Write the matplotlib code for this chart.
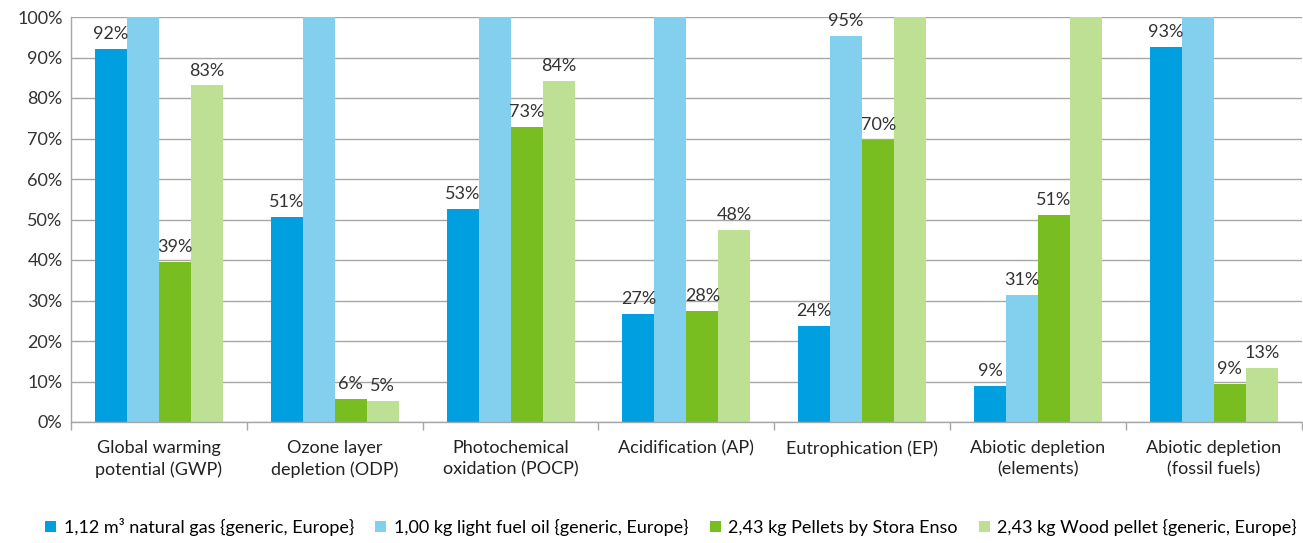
import numpy as np
import matplotlib
matplotlib.use("Agg")
import matplotlib.pyplot as plt
from matplotlib.ticker import FixedLocator, PercentFormatter

plt.rcParams['font.family'] = ['Lato', 'DejaVu Sans']

# data (percent of the worst option in each category)
categories = ["Global warming\npotential (GWP)", "Ozone layer\ndepletion (ODP)",
              "Photochemical\noxidation (POCP)", "Acidification (AP)",
              "Eutrophication (EP)", "Abiotic depletion\n(elements)",
              "Abiotic depletion\n(fossil fuels)"]
series_names = ["1,12 m³ natural gas {generic, Europe}",
                "1,00 kg light fuel oil {generic, Europe}",
                "2,43 kg Pellets by Stora Enso",
                "2,43 kg Wood pellet {generic, Europe}"]
natural_gas = [92.2, 50.6, 52.6, 26.6, 23.6, 8.8, 92.6]
fuel_oil = [100, 100, 100, 100, 95.4, 31.4, 100]
stora_enso = [39.4, 5.6, 72.9, 27.5, 69.6, 51.2, 9.3]
wood_pellet = [83.1, 5.1, 84.1, 47.5, 100, 100, 13.3]
colors = ["#009FDF", "#82CFEE", "#78BE20", "#BEE094"]

values = [natural_gas, fuel_oil, stora_enso, wood_pellet]

fig = plt.figure(figsize=(13.03, 5.43), dpi=100)
ax = fig.add_axes([71 / 1303, 1 - 422 / 543, 1 - 71 / 1303 - 0.001, (422 - 17) / 543])

x = np.arange(len(categories)) + 0.5
w = 0.182
for i, (vals, name, c) in enumerate(zip(values, series_names, colors)):
    pos = x + (i - 1.5) * w
    ax.bar(pos, vals, width=w, color=c, label=name, zorder=2)
    for p, v in zip(pos, vals):
        if v < 99.5:
            ax.annotate(f"{v:.0f}%", (p, v), xytext=(0, 5), textcoords="offset points",
                        ha="center", va="bottom", fontsize=13, color="#333333")

ax.set_xlim(0, len(categories))
ax.set_ylim(0, 100)
ax.set_yticks(np.arange(0, 101, 10))
ax.yaxis.set_major_formatter(PercentFormatter(decimals=0))
ax.yaxis.grid(True, color="#A6A6A6", linewidth=1, zorder=0)
ax.set_axisbelow(True)
ax.tick_params(axis="y", length=0, labelsize=13, pad=6, labelcolor="#333333")

ax.set_xticks(x)
ax.set_xticklabels(categories, fontsize=13, color="#222222", linespacing=1.4)
ax.tick_params(axis="x", which="major", length=0, pad=13)
ax.xaxis.set_minor_locator(FixedLocator(np.arange(len(categories) + 1)))
ax.tick_params(axis="x", which="minor", length=6, color="#A6A6A6", width=1)

for s in ["top", "right"]:
    ax.spines[s].set_visible(False)
for s in ["left", "bottom"]:
    ax.spines[s].set_color("#A6A6A6")
    ax.spines[s].set_linewidth(1)

fig.legend(loc="center", bbox_to_anchor=(0.515, 1 - 527 / 543), ncol=4, frameon=False,
           fontsize=13, handlelength=0.6, handleheight=0.6, handletextpad=0.4,
           columnspacing=1.2)

fig.savefig("out.png", dpi=100)
